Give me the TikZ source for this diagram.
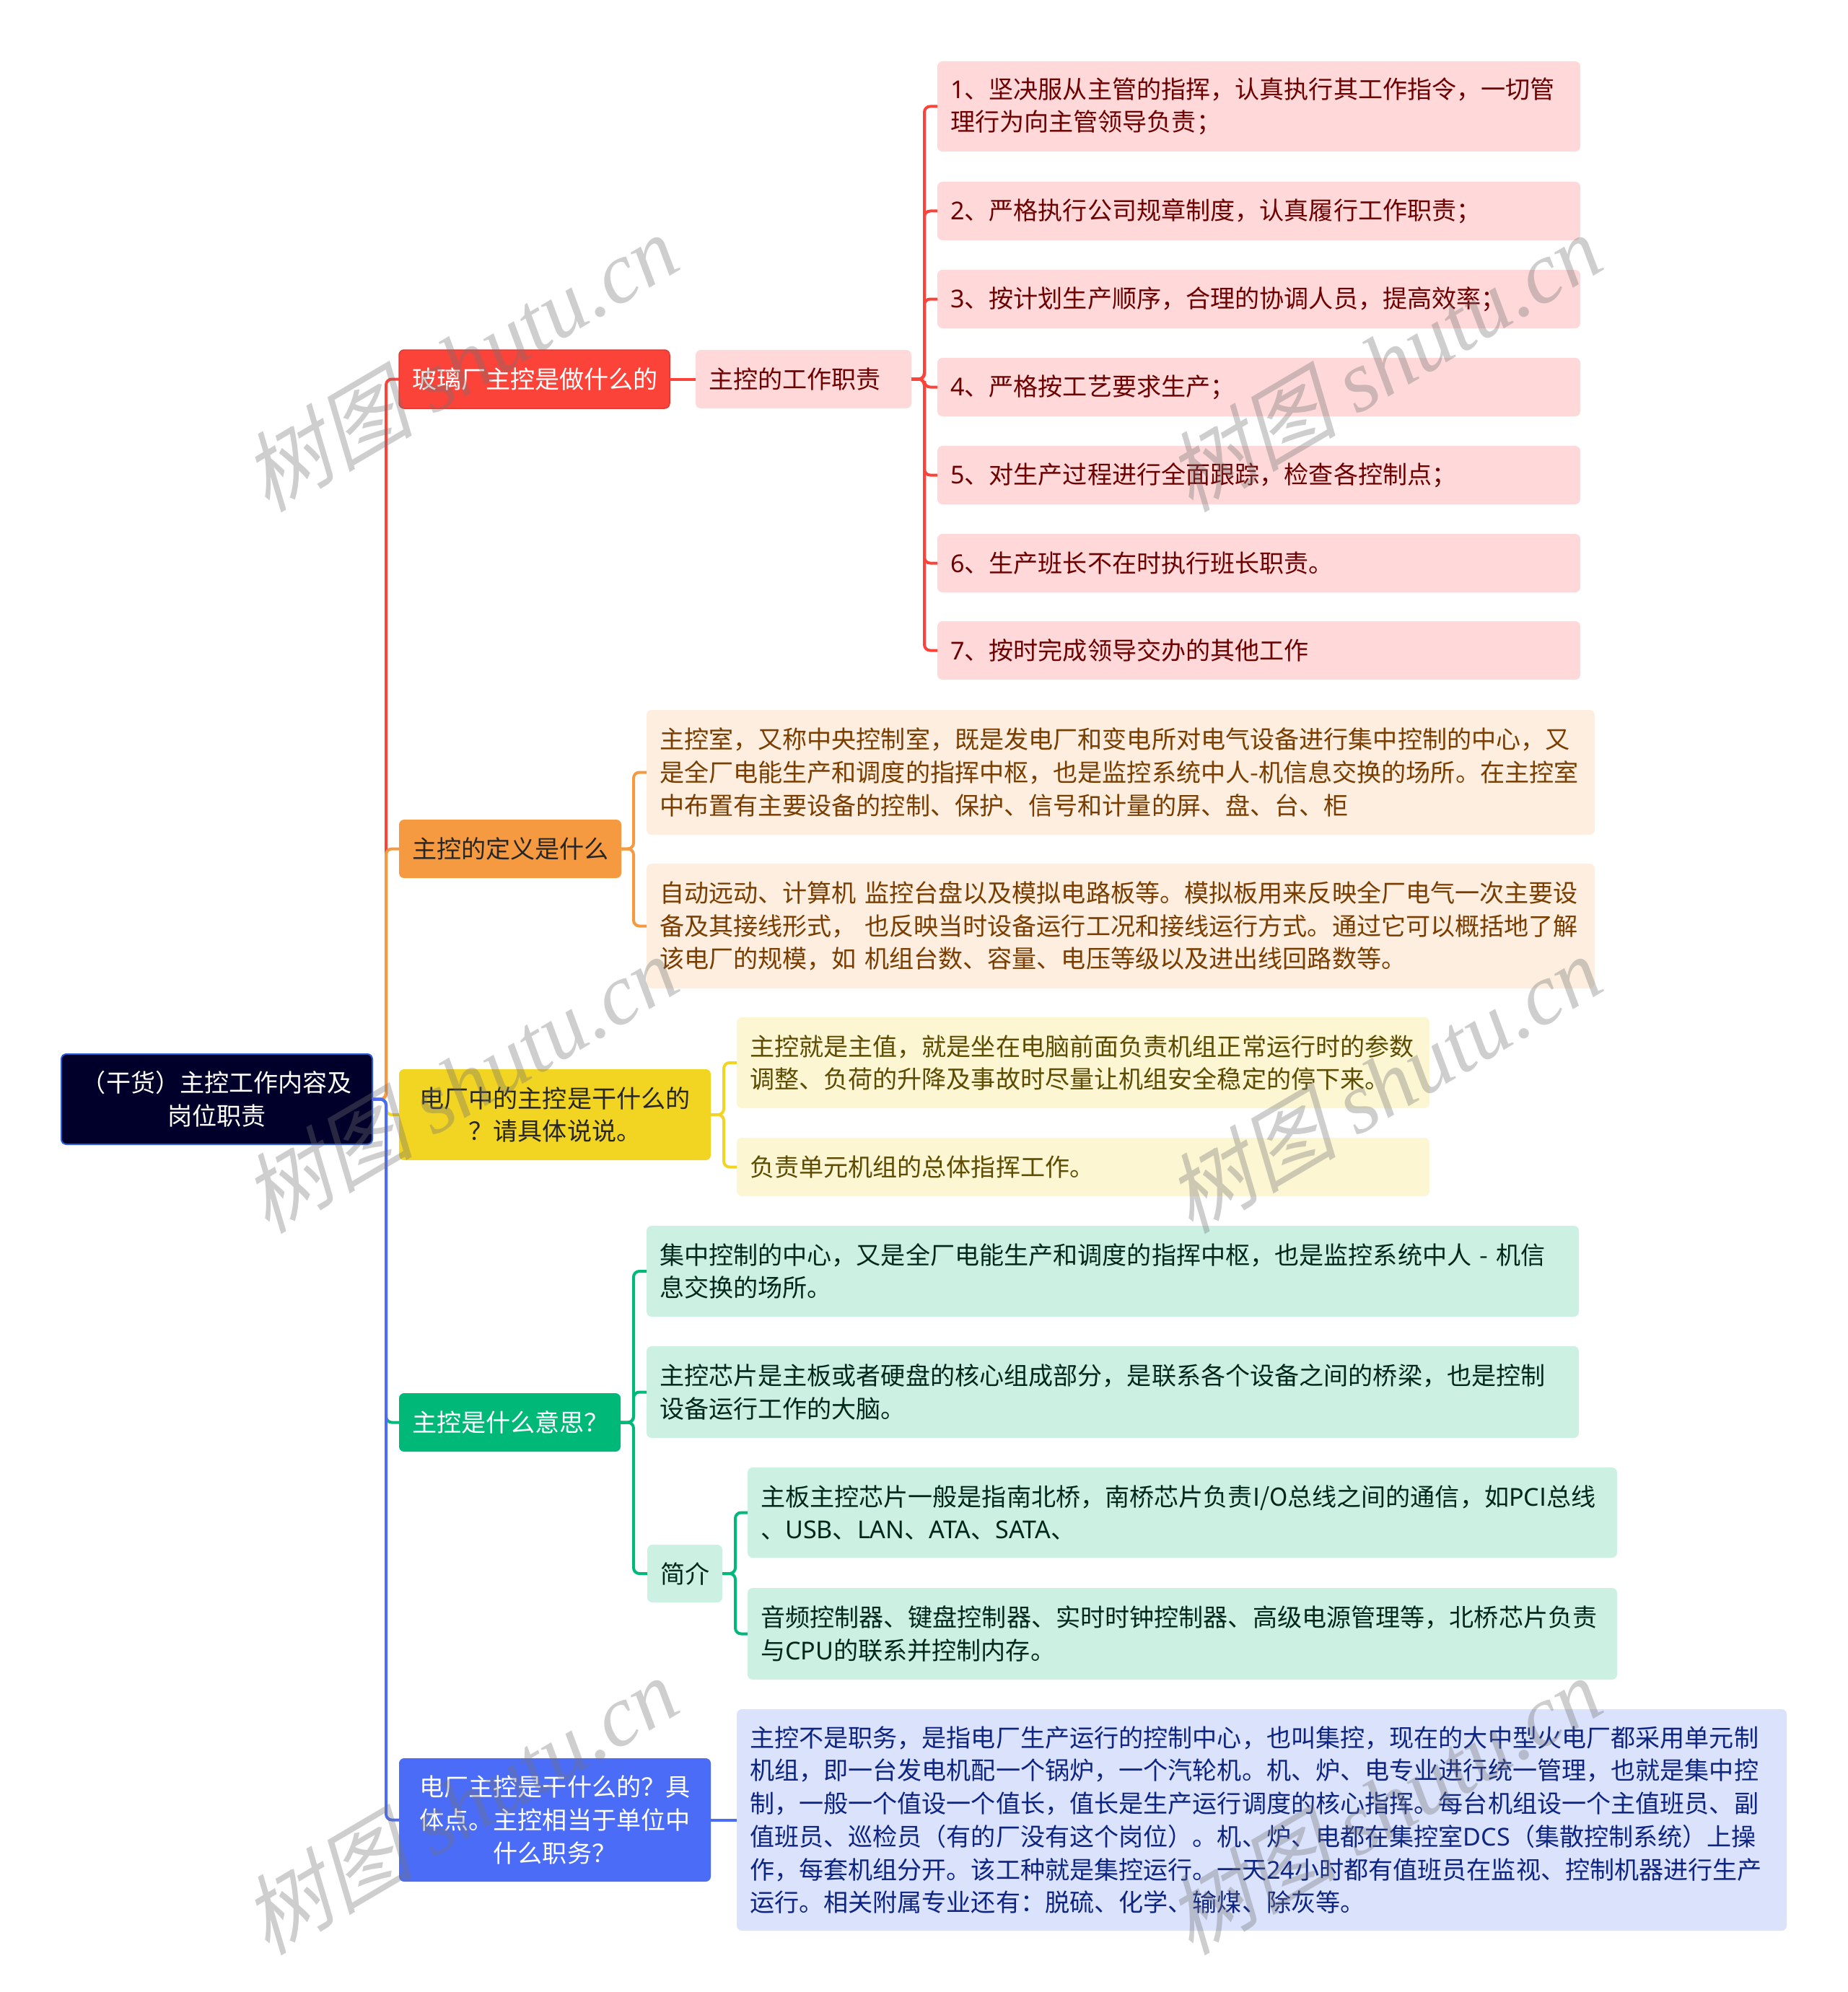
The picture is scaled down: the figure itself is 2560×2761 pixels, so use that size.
\documentclass[tikz,border=0pt]{standalone}
\usepackage{fontspec}
\usepackage{xcolor}
\setmainfont{Noto Sans CJK SC}
\newfontfamily\latinfont{Noto Sans}
\newfontfamily\markcjk[FakeSlant=0.25]{Noto Sans CJK SC}
\newfontfamily\marklatin{Liberation Serif}
\newcommand{\lat}[1]{{\latinfont #1}}
\usetikzlibrary{positioning}
\definecolor{rootblue}{HTML}{00002A}
\definecolor{rootedge}{HTML}{2A5BD7}
\definecolor{redmain}{HTML}{FB433A}
\definecolor{redleaf}{HTML}{FFD9D9}
\definecolor{redtext}{HTML}{6D0000}
\definecolor{orangemain}{HTML}{F69A42}
\definecolor{orangeleaf}{HTML}{FDEEE0}
\definecolor{orangetext}{HTML}{7A3D00}
\definecolor{yellowmain}{HTML}{F2D423}
\definecolor{yellowleaf}{HTML}{FCF6D3}
\definecolor{yellowtext}{HTML}{5C4B00}
\definecolor{greenmain}{HTML}{00B877}
\definecolor{greenleaf}{HTML}{CCF1E3}
\definecolor{greentext}{HTML}{00281A}
\definecolor{bluemain}{HTML}{4A6CF7}
\definecolor{blueleaf}{HTML}{DBE2FC}
\definecolor{bluetext}{HTML}{0D2480}
\tikzset{
  every node/.style={font=\fontsize{34.1}{45.7}\selectfont},
  box/.style={
    anchor=north west,
    rounded corners=7pt,
    inner xsep=18pt,
    inner ysep=0pt,
    outer sep=0pt,
    align=left
  },
  mainbox/.style={box, align=center, text=white},
  rootbox/.style={mainbox, fill=rootblue, draw=rootedge, line width=2pt},
  link/.style={line width=4pt, rounded corners=8pt},
  watermark/.style={rotate=30.5, text=black!55, opacity=0.35, font=\fontsize{120}{120}\selectfont\itshape}
}

\begin{document}
\begin{tikzpicture}[x=1pt, y=-1pt]
  \useasboundingbox (0,0) rectangle (2560,2761);

  % Root and main topics
  \node[rootbox, text width=395pt, minimum height=125pt] (root) at (85,1461) {（干货）主控工作内容及\\岗位职责};
  \node[mainbox, fill=redmain, draw=redmain!88!black, line width=1.5pt, text width=339pt, minimum height=81pt] (glass) at (553,485) {玻璃厂主控是做什么的};
  \node[mainbox, fill=orangemain, text=black!85, text width=272pt, minimum height=81pt] (define) at (553,1136) {主控的定义是什么};
  \node[mainbox, fill=yellowmain, text=black!85, text width=396pt, minimum height=126pt] (plant) at (553,1482) {电厂中的主控是干什么的\\？请具体说说。};
  \node[mainbox, fill=greenmain, text width=271pt, minimum height=81pt] (mean) at (553,1931) {主控是什么意思？};
  \node[mainbox, fill=bluemain, text width=396pt, minimum height=171pt] (post) at (553,2437) {电厂主控是干什么的？具\\体点。主控相当于单位中\\什么职务？};

  % Duties
  \node[box, fill=redleaf, text=redtext, text width=263pt, minimum height=81pt] (duty) at (964,485) {主控的工作职责};
  \node[box, fill=redleaf, text=redtext, text width=855pt, minimum height=125pt] (d1) at (1299,85) {\lat{1}、坚决服从主管的指挥，认真执行其工作指令，一切管\\理行为向主管领导负责；};
  \node[box, fill=redleaf, text=redtext, text width=855pt, minimum height=81pt] (d2) at (1299,252) {\lat{2}、严格执行公司规章制度，认真履行工作职责；};
  \node[box, fill=redleaf, text=redtext, text width=855pt, minimum height=81pt] (d3) at (1299,374) {\lat{3}、按计划生产顺序，合理的协调人员，提高效率；};
  \node[box, fill=redleaf, text=redtext, text width=855pt, minimum height=81pt] (d4) at (1299,496) {\lat{4}、严格按工艺要求生产；};
  \node[box, fill=redleaf, text=redtext, text width=855pt, minimum height=81pt] (d5) at (1299,618) {\lat{5}、对生产过程进行全面跟踪，检查各控制点；};
  \node[box, fill=redleaf, text=redtext, text width=855pt, minimum height=81pt] (d6) at (1299,740) {\lat{6}、生产班长不在时执行班长职责。};
  \node[box, fill=redleaf, text=redtext, text width=855pt, minimum height=81pt] (d7) at (1299,861) {\lat{7}、按时完成领导交办的其他工作};

  % Definition
  \node[box, fill=orangeleaf, text=orangetext, text width=1278pt, minimum height=173pt] (def1) at (896,984) {主控室，又称中央控制室，既是发电厂和变电所对电气设备进行集中控制的中心，又\\是全厂电能生产和调度的指挥中枢，也是监控系统中人-机信息交换的场所。在主控室\\中布置有主要设备的控制、保护、信号和计量的屏、盘、台、柜};
  \node[box, fill=orangeleaf, text=orangetext, text width=1278pt, minimum height=173pt] (def2) at (896,1197) {自动远动、计算机 监控台盘以及模拟电路板等。模拟板用来反映全厂电气一次主要设\\备及其接线形式， 也反映当时设备运行工况和接线运行方式。通过它可以概括地了解\\该电厂的规模，如 机组台数、容量、电压等级以及进出线回路数等。};

  % Plant work
  \node[box, fill=yellowleaf, text=yellowtext, text width=924pt, minimum height=126pt] (work1) at (1021,1410) {主控就是主值，就是坐在电脑前面负责机组正常运行时的参数\\调整、负荷的升降及事故时尽量让机组安全稳定的停下来。};
  \node[box, fill=yellowleaf, text=yellowtext, text width=924pt, minimum height=81pt] (work2) at (1021,1577) {负责单元机组的总体指挥工作。};

  % Meaning
  \node[box, fill=greenleaf, text=greentext, text width=1256pt, minimum height=126pt] (mean1) at (896,1699) {集中控制的中心，又是全厂电能生产和调度的指挥中枢，也是监控系统中人 - 机信\\息交换的场所。};
  \node[box, fill=greenleaf, text=greentext, text width=1256pt, minimum height=127pt] (mean2) at (896,1866) {主控芯片是主板或者硬盘的核心组成部分，是联系各个设备之间的桥梁，也是控制\\设备运行工作的大脑。};
  \node[box, fill=greenleaf, text=greentext, text width=68pt, minimum height=80pt] (brief) at (897,2141) {简介};
  \node[box, fill=greenleaf, text=greentext, text width=1169pt, minimum height=125pt] (chip1) at (1036,2034) {主板主控芯片一般是指南北桥，南桥芯片负责I/O总线之间的通信，如\lat{PC}I总线\\、\lat{USB}、\lat{LAN}、\lat{ATA}、\lat{SATA}、};
  \node[box, fill=greenleaf, text=greentext, text width=1169pt, minimum height=127pt] (chip2) at (1036,2201) {音频控制器、键盘控制器、实时时钟控制器、高级电源管理等，北桥芯片负责\\与\lat{CPU}的联系并控制内存。};

  % Post
  \node[box, fill=blueleaf, text=bluetext, text width=1419pt, minimum height=307pt] (note) at (1021,2369) {主控不是职务，是指电厂生产运行的控制中心，也叫集控，现在的大中型火电厂都采用单元制\\机组，即一台发电机配一个锅炉，一个汽轮机。机、炉、电专业进行统一管理，也就是集中控\\制，一般一个值设一个值长，值长是生产运行调度的核心指挥。每台机组设一个主值班员、副\\值班员、巡检员（有的厂没有这个岗位）。机、炉、电都在集控室\lat{DCS}（集散控制系统）上操\\作，每套机组分开。该工种就是集控运行。一天\lat{24}小时都有值班员在监视、控制机器进行生产\\运行。相关附属专业还有：脱硫、化学、输煤、除灰等。};

  % Links from the root
  \draw[link, redmain] (root.east) -- ++(19,0) |- (glass.west);
  \draw[link, orangemain] (root.east) -- ++(19,0) |- (define.west);
  \draw[link, yellowmain] (root.east) -- ++(19,0) |- (plant.west);
  \draw[link, greenmain] (root.east) -- ++(19,0) |- (mean.west);
  \draw[link, bluemain] (root.east) -- ++(19,0) |- (post.west);

  % Red links
  \draw[link, redmain] (glass.east) -- (duty.west);
  \draw[link, redmain] (duty.east) -- ++(18,0) |- (d1.west);
  \draw[link, redmain] (duty.east) -- ++(18,0) |- (d2.west);
  \draw[link, redmain] (duty.east) -- ++(18,0) |- (d3.west);
  \draw[link, redmain] (duty.east) -- ++(18,0) |- (d4.west);
  \draw[link, redmain] (duty.east) -- ++(18,0) |- (d5.west);
  \draw[link, redmain] (duty.east) -- ++(18,0) |- (d6.west);
  \draw[link, redmain] (duty.east) -- ++(18,0) |- (d7.west);

  % Orange links
  \draw[link, orangemain] (define.east) -- ++(17,0) |- (def1.west);
  \draw[link, orangemain] (define.east) -- ++(17,0) |- (def2.west);

  % Yellow links
  \draw[link, yellowmain] (plant.east) -- ++(18,0) |- (work1.west);
  \draw[link, yellowmain] (plant.east) -- ++(18,0) |- (work2.west);

  % Green links
  \draw[link, greenmain] (mean.east) -- ++(18,0) |- (mean1.west);
  \draw[link, greenmain] (mean.east) -- ++(18,0) |- (mean2.west);
  \draw[link, greenmain] (mean.east) -- ++(18,0) |- (brief.west);
  \draw[link, greenmain] (brief.east) -- ++(18,0) |- (chip1.west);
  \draw[link, greenmain] (brief.east) -- ++(18,0) |- (chip2.west);

  % Blue link
  \draw[link, bluemain] (post.east) -- (note.west);

  % Watermarks
  \node[watermark] (mark1) at (636,502) {{\markcjk 树图} {\marklatin shutu.cn}};
  \node[watermark] (mark2) at (1916,502) {{\markcjk 树图} {\marklatin shutu.cn}};
  \node[watermark] (mark3) at (636,1502) {{\markcjk 树图} {\marklatin shutu.cn}};
  \node[watermark] (mark4) at (1916,1502) {{\markcjk 树图} {\marklatin shutu.cn}};
  \node[watermark] (mark5) at (636,2502) {{\markcjk 树图} {\marklatin shutu.cn}};
  \node[watermark] (mark6) at (1916,2502) {{\markcjk 树图} {\marklatin shutu.cn}};
\end{tikzpicture}
\end{document}
